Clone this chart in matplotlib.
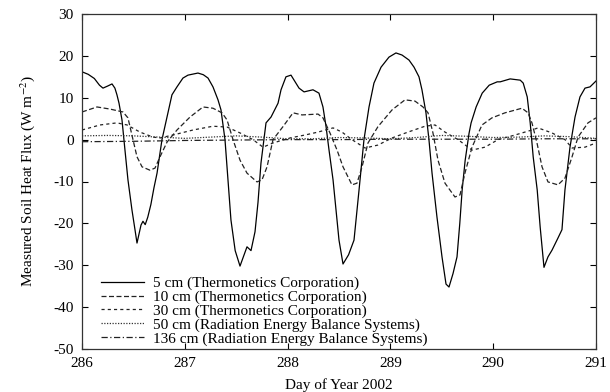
import matplotlib
matplotlib.use("Agg")
import matplotlib.pyplot as plt

plt.rcParams['font.family'] = ['Liberation Serif', 'DejaVu Serif']
plt.rcParams['mathtext.fontset'] = 'stix'
plt.rcParams['axes.unicode_minus'] = False

# 5 cm (Thermonetics)
day_5 = [286.000, 286.060, 286.120, 286.170, 286.204, 286.250, 286.292, 286.320,
         286.340, 286.360, 286.389, 286.418, 286.447, 286.486, 286.516, 286.535,
         286.574, 286.593, 286.615, 286.640, 286.670, 286.700, 286.730, 286.778,
         286.827, 286.875, 286.924, 286.982, 287.031, 287.128, 287.180, 287.226,
         287.274, 287.323, 287.352, 287.391, 287.420, 287.449, 287.490, 287.537,
         287.605, 287.644, 287.683, 287.712, 287.741, 287.790, 287.839, 287.907,
         287.936, 287.984, 288.033, 288.111, 288.160, 288.247, 288.305, 288.344,
         288.374, 288.403, 288.442, 288.471, 288.500, 288.539, 288.593, 288.646,
         288.695, 288.743, 288.792, 288.840, 288.909, 288.986, 289.054, 289.113,
         289.181, 289.230, 289.278, 289.307, 289.346, 289.375, 289.405, 289.453,
         289.502, 289.541, 289.570, 289.609, 289.648, 289.675, 289.698, 289.727,
         289.765, 289.785, 289.834, 289.893, 289.961, 290.039, 290.068, 290.165,
         290.263, 290.292, 290.331, 290.360, 290.389, 290.428, 290.457, 290.494,
         290.533, 290.572, 290.630, 290.669, 290.698, 290.747, 290.796, 290.844,
         290.893, 290.942, 291.000]
flux_5 = [16.2, 15.6, 14.6, 13.0, 12.3, 12.8, 13.3, 12.3,
          10.7, 8.7, 4.7, -2.5, -9.6, -16.8, -21.6, -24.7,
          -20.4, -19.5, -20.3, -18.5, -15.5, -11.5, -8.0, 0.0,
          5.4, 10.7, 12.6, 14.7, 15.4, 15.9, 15.5, 14.7,
          12.6, 9.5, 7.1, 0.0, -9.6, -19.2, -26.5, -30.2,
          -25.6, -26.5, -22.0, -15.0, -5.6, 4.0, 5.4, 8.7,
          11.9, 15.0, 15.4, 12.3, 11.4, 11.9, 11.1, 7.8,
          3.1, -2.5, -9.6, -16.8, -24.0, -29.7, -27.5, -24.0,
          -12.0, 0.0, 7.8, 13.5, 17.3, 19.7, 20.7, 20.2,
          19.0, 17.3, 15.0, 11.9, 6.4, 0.0, -8.0, -18.5,
          -28.0, -34.5, -35.2, -32.0, -28.0, -20.0, -12.0, -5.0,
          1.5, 4.0, 7.8, 11.1, 13.0, 13.8, 13.8, 14.5,
          14.2, 13.5, 10.2, 4.0, -4.1, -12.0, -20.9, -30.5,
          -28.0, -26.4, -23.5, -21.5, -12.0, -1.8, 5.4, 10.2,
          12.3, 12.6, 14.0]

# 10 cm (Thermonetics)
day_10 = [286.000, 286.146, 286.272, 286.399, 286.447, 286.496, 286.535, 286.584,
          286.661, 286.710, 286.759, 286.827, 286.924, 287.051, 287.177, 287.274,
          287.362, 287.411, 287.469, 287.537, 287.605, 287.702, 287.751, 287.800,
          287.858, 287.955, 288.053, 288.140, 288.296, 288.344, 288.412, 288.481,
          288.539, 288.626, 288.675, 288.724, 288.782, 288.879, 289.016, 289.142,
          289.239, 289.317, 289.366, 289.414, 289.463, 289.531, 289.628, 289.677,
          289.725, 289.794, 289.891, 289.988, 290.115, 290.280, 290.339, 290.377,
          290.426, 290.475, 290.533, 290.630, 290.698, 290.767, 290.825, 290.922,
          291.000]
flux_10 = [6.6, 7.8, 7.3, 6.6, 5.2, 0.0, -4.1, -6.5,
           -7.3, -6.8, -4.1, -0.6, 2.3, 5.4, 7.8, 7.5,
           6.4, 4.7, 0.0, -4.9, -8.0, -10.1, -9.6, -6.5,
           0.0, 3.1, 6.4, 5.9, 6.1, 5.2, 1.6, -2.5,
           -6.5, -10.8, -10.4, -6.5, -0.8, 3.1, 7.1, 9.5,
           9.2, 7.8, 6.4, 1.6, -4.9, -10.4, -13.7, -13.2,
           -8.0, -1.8, 3.5, 5.2, 6.4, 7.5, 6.4, 4.0,
           -0.8, -6.5, -10.1, -10.8, -9.2, -4.1, 0.6, 4.0,
           5.2]

# 30 cm (Thermonetics)
day_30 = [286.000, 286.175, 286.340, 286.438, 286.564, 286.691, 286.759, 286.885,
          287.080, 287.274, 287.411, 287.537, 287.663, 287.761, 287.858, 288.023,
          288.169, 288.296, 288.442, 288.529, 288.626, 288.753, 288.879, 289.016,
          289.171, 289.337, 289.434, 289.531, 289.658, 289.794, 289.920, 290.047,
          290.212, 290.377, 290.436, 290.572, 290.698, 290.767, 290.893, 291.000]
flux_30 = [2.3, 3.5, 4.0, 3.5, 1.8, 0.6, 0.4, 1.1,
           2.3, 3.2, 3.0, 1.6, 0.0, -1.8, -0.8, 0.4,
           1.1, 1.8, 2.8, 1.8, 0.0, -2.0, -1.3, 0.4,
           1.8, 3.2, 3.5, 1.8, 0.0, -2.5, -1.8, 0.0,
           1.1, 2.3, 2.8, 1.6, 0.0, -2.0, -1.8, -0.8]

# 50 cm (REBS)
day_50 = [286.00, 286.25, 286.50, 286.75, 287.00, 287.25, 287.50, 287.75,
          288.00, 288.25, 288.50, 288.75, 289.00, 289.25, 289.50, 289.75,
          290.00, 290.25, 290.50, 290.75, 291.00]
flux_50 = [0.9, 1.0, 0.9, 0.6, 0.3, 0.6, 0.9, 0.6,
           0.2, 0.2, 0.5, 0.4, 0.2, 0.5, 1.0, 0.8,
           0.5, 0.6, 0.9, 0.7, 0.3]

# 136 cm (REBS)
day_136 = [286.0, 286.5, 287.0, 287.5, 288.0, 288.5, 289.0, 289.5, 290.0, 290.5, 291.0]
flux_136 = [-0.5, -0.4, -0.2, -0.1, 0.0, 0.0, 0.1, 0.1, 0.1, 0.2, 0.2]

labels = ['5 cm (Thermonetics Corporation)',
          '10 cm (Thermonetics Corporation)',
          '30 cm (Thermonetics Corporation)',
          '50 cm (Radiation Energy Balance Systems)',
          '136 cm (Radiation Energy Balance Systems)']

fig = plt.figure(figsize=(6.1, 3.92), dpi=100)
ax = fig.add_axes([82 / 610, 1 - 349 / 392, (596 - 82) / 610, (349 - 14) / 392])

lw = 0.9
ax.plot(day_5, flux_5, color='black', lw=lw, ls='-', label=labels[0])
ax.plot(day_10, flux_10, color='#222222', lw=lw, ls=(0, (4, 2)), label=labels[1])
ax.plot(day_30, flux_30, color='#222222', lw=lw, ls=(0, (2.5, 2.5)), label=labels[2])
ax.plot(day_50, flux_50, color='#333333', lw=lw, ls=(0, (1, 1.2)), label=labels[3])
ax.plot(day_136, flux_136, color='#222222', lw=lw, ls=(0, (5, 2, 1, 2)), label=labels[4])

ax.set_xlim(286, 291)
ax.set_ylim(-50, 30)
ax.set_xticks([286, 287, 288, 289, 290, 291])
ax.set_yticks([-50, -40, -30, -20, -10, 0, 10, 20, 30])
ax.tick_params(direction='in', top=True, right=True, length=4, width=0.8,
               labelsize=11, pad=6)
for s in ax.spines.values():
    s.set_linewidth(0.9)
    s.set_color('#333333')

ax.set_xlabel('Day of Year 2002', fontsize=11, labelpad=6)
ax.set_ylabel('Measured Soil Heat Flux (W m$^{-2}$)', fontsize=11, labelpad=12)

ax.legend(loc='lower left', bbox_to_anchor=(0.017, -0.022), frameon=False,
          fontsize=11, handlelength=2.8, handletextpad=0.6, labelspacing=0.0,
          borderaxespad=0.3)

fig.savefig('out.png', dpi=100)
